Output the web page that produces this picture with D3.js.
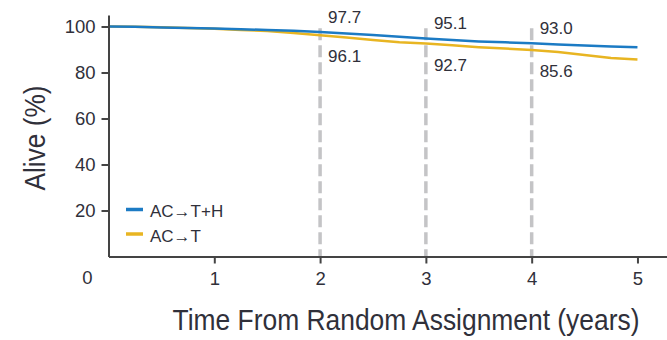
<!DOCTYPE html>
<html>
<head>
<meta charset="utf-8">
<script src="https://cdn.jsdelivr.net/npm/d3@7"></script>
<style>
  body { margin: 0; background: #fff; }
  svg { display: block; }
  text { fill: #30303a; }
</style>
</head>
<body>
<svg id="chart" width="667" height="340"></svg>
<script>
// survival curves (years, % alive)
const years = [0, 0.25, 0.5, 0.75, 1, 1.25, 1.5, 1.75, 2, 2.25, 2.5, 2.75, 3, 3.25, 3.5, 3.75, 4, 4.25, 4.5, 4.75, 5];
const acth = [100, 99.9, 99.6, 99.4, 99.1, 98.8, 98.5, 98.1, 97.6, 97.0, 96.3, 95.5, 94.8, 94.1, 93.5, 93.1, 92.7, 92.2, 91.7, 91.3, 91.0];
const act = [100, 99.9, 99.7, 99.4, 99.0, 98.5, 98.0, 97.2, 96.2, 95.2, 94.1, 93.2, 92.6, 91.8, 91.0, 90.4, 89.8, 88.9, 87.6, 86.3, 85.6];

// annotated landmark years and their printed values
const markYears = [2, 3, 4];
const markActh = ['97.7', '95.1', '93.0'];
const markAct = ['96.1', '92.7', '85.6'];

const seriesNames = ['AC\u2192T+H', 'AC\u2192T'];
const seriesColors = ['#1c7bc4', '#e8b522'];
const xTicks = [1, 2, 3, 4, 5];
const yTicks = [20, 40, 60, 80, 100];

const svg = d3.select('#chart');
const font = "'Liberation Sans', Arial, sans-serif";
const ink = '#30303a';

const x = d3.scaleLinear().domain([0, 5.3]).range([108.5, 669.2]);
const y = d3.scaleLinear().domain([0, 105]).range([256.5, 15]);

// dashed landmark lines
svg.append('g')
  .selectAll('line')
  .data(markYears)
  .enter().append('line')
    .attr('x1', d => x(d)).attr('x2', d => x(d))
    .attr('y1', y(99.2)).attr('y2', y(0))
    .attr('stroke', '#c4c4c6')
    .attr('stroke-width', 3.5)
    .attr('stroke-dasharray', '12,5');

// curves
const line = d3.line()
  .x((d, i) => x(years[i]))
  .y(d => y(d));

[act, acth].forEach((s, k) => {
  svg.append('path')
    .datum(s)
    .attr('d', line)
    .attr('fill', 'none')
    .attr('stroke', seriesColors[1 - k])
    .attr('stroke-width', 2.5);
});

// axes
const xAxis = svg.append('g')
    .attr('transform', `translate(0,${y(0)})`)
    .call(d3.axisBottom(x).tickValues(xTicks).tickFormat(d3.format('d'))
      .tickSize(7).tickSizeOuter(0).tickPadding(8));
const yAxis = svg.append('g')
    .attr('transform', `translate(${x(0)},0)`)
    .call(d3.axisLeft(y).tickValues(yTicks).tickSize(7).tickSizeOuter(0).tickPadding(6));

[xAxis, yAxis].forEach(g => {
  g.selectAll('path, line').attr('stroke', '#444').attr('stroke-width', 2);
  g.selectAll('text')
    .attr('fill', ink)
    .style('font-family', font)
    .style('font-size', '18.5px');
});

// the lone zero at the corner
svg.append('text')
  .attr('x', x(0) - 21)
  .attr('y', y(0) + 27)
  .attr('text-anchor', 'middle')
  .style('font-family', font)
  .style('font-size', '18.5px')
  .text('0');

// landmark values
const yearIndex = t => years.indexOf(t);
svg.append('g')
  .selectAll('text')
  .data(markYears)
  .enter().append('text')
    .attr('x', d => x(d) + 8)
    .attr('y', d => y(acth[yearIndex(d)]) - 9)
    .style('font-family', font)
    .style('font-size', '17px')
    .text((d, i) => markActh[i]);
svg.append('g')
  .selectAll('text')
  .data(markYears)
  .enter().append('text')
    .attr('x', d => x(d) + 8)
    .attr('y', d => y(act[yearIndex(d)]) + 27)
    .style('font-family', font)
    .style('font-size', '17px')
    .text((d, i) => markAct[i]);

// legend
const legend = svg.append('g')
  .selectAll('g')
  .data(seriesNames)
  .enter().append('g')
    .attr('transform', (d, i) => `translate(126,${209.5 + i * 24.5})`);
legend.append('line')
  .attr('x1', 0).attr('x2', 17)
  .attr('stroke', (d, i) => seriesColors[i])
  .attr('stroke-width', 3.5);
legend.append('text')
  .attr('x', 24)
  .attr('y', 7.5)
  .style('font-family', font)
  .style('font-size', '17px')
  .text(d => d);

// axis titles: the original face is condensed, so squeeze horizontally
function condensedTitle(label, size, width, place) {
  const g = svg.append('g');
  const t = g.append('text')
    .attr('text-anchor', 'middle')
    .style('font-family', font)
    .style('font-size', size + 'px')
    .text(label);
  const sx = width / t.node().getComputedTextLength();
  t.attr('transform', `scale(${sx},1)`);
  g.attr('transform', place);
}
condensedTitle('Alive (%)', 30, 105, 'translate(45,138) rotate(-90)');
condensedTitle('Time From Random Assignment (years)', 30, 467, 'translate(406,330)');
</script>
</body>
</html>
